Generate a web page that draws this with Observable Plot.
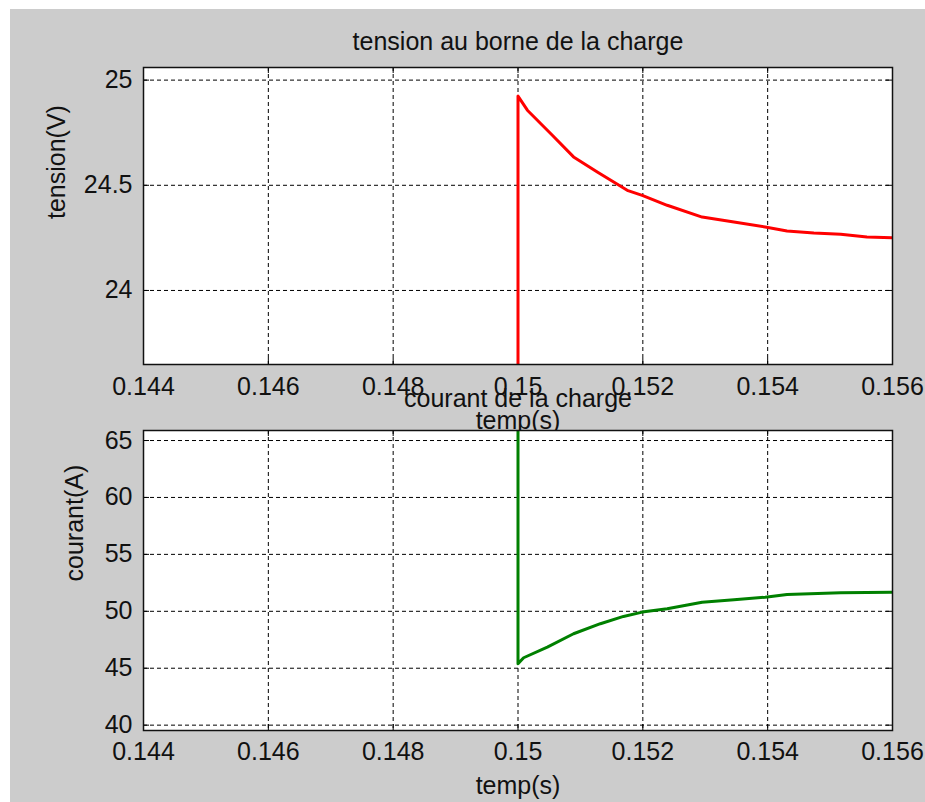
<!DOCTYPE html>
<html><head><meta charset="utf-8">
<script src="https://cdn.jsdelivr.net/npm/d3@7"></script>
<script src="https://cdn.jsdelivr.net/npm/@observablehq/plot@0.6"></script>
<style>
html,body{margin:0;padding:0;background:#fff;}
#fig{position:relative;width:925px;height:802px;background:#fff;overflow:hidden;}
#bg{position:absolute;left:10px;top:9px;right:0;bottom:0;background:#cccccc;}
#fig svg{position:absolute;left:0;}
</style></head><body>
<div id="fig"><div id="bg"></div></div>
<script>
// ---- data ----
const tVolt = [0.15, 0.15, 0.15015, 0.15055, 0.15089, 0.15127, 0.15175, 0.15199, 0.15239, 0.15295, 0.15346, 0.15396, 0.15431, 0.15474, 0.15517, 0.15559, 0.156];
const volt  = [23.0, 24.924, 24.857, 24.738, 24.635, 24.563, 24.476, 24.452, 24.405, 24.349, 24.325, 24.302, 24.283, 24.273, 24.267, 24.254, 24.251];
const tCur = [0.15, 0.15, 0.15009, 0.15047, 0.15089, 0.15132, 0.15169, 0.15199, 0.15239, 0.15295, 0.15346, 0.15396, 0.15431, 0.15517, 0.156];
const cur  = [70, 45.39, 45.92, 46.85, 48.03, 48.91, 49.55, 49.93, 50.22, 50.80, 51.01, 51.24, 51.48, 51.63, 51.68];
const xTicks = [0.144, 0.146, 0.148, 0.15, 0.152, 0.154, 0.156];
const xTickLabels = ["0.144", "0.146", "0.148", "0.15", "0.152", "0.154", "0.156"];
const voltTicks = [24, 24.5, 25];
const voltTickLabels = ["24", "24.5", "25"];
const curTicks = [40, 45, 50, 55, 60, 65];
const curTickLabels = ["40", "45", "50", "55", "60", "65"];
const xDomain = [0.144, 0.156];
const voltDomain = [23.648, 25.06];
const curDomain = [39.53, 65.88];

const FONT = "'Liberation Sans', Arial, Helvetica, sans-serif";
const W = 925, ML = 143, MR = 33;

function panel(o) {
  const data = o.t.map((t, i) => ({t, v: o.v[i]}));
  const H = o.height - o.mt - o.mb;
  const FW = W - ML - MR;
  const svg = Plot.plot({
    width: W, height: o.height,
    marginLeft: ML, marginRight: MR, marginTop: o.mt, marginBottom: o.mb,
    style: {fontFamily: FONT, fontSize: "25px", background: "transparent", color: "#111", overflow: "visible"},
    x: {domain: xDomain, label: null},
    y: {domain: o.yDomain, label: null},
    marks: [
      Plot.frame({fill: "white", stroke: null}),
      Plot.gridX(xTicks, {stroke: "#000", strokeOpacity: 1, strokeDasharray: "4,3", strokeWidth: 1}),
      Plot.gridY(o.yTicks, {stroke: "#000", strokeOpacity: 1, strokeDasharray: "4,3", strokeWidth: 1}),
      Plot.ruleX(xTicks, {x: d => d, insetTop: H - 6, stroke: "#000", strokeWidth: 1}),
      Plot.ruleX(xTicks, {x: d => d, insetBottom: H - 6, stroke: "#000", strokeWidth: 1}),
      Plot.ruleY(o.yTicks, {y: d => d, insetRight: FW - 6, stroke: "#000", strokeWidth: 1}),
      Plot.ruleY(o.yTicks, {y: d => d, insetLeft: FW - 6, stroke: "#000", strokeWidth: 1}),
      Plot.line(data, {x: "t", y: "v", stroke: o.color, strokeWidth: 3, clip: true}),
      Plot.frame({stroke: "#111", strokeWidth: 1.5}),
      Plot.axisX(xTicks, {anchor: "bottom", tickSize: 0, tickPadding: o.padX, fontSize: 25,
        tickFormat: d => xTickLabels[xTicks.indexOf(d)], label: null}),
      Plot.axisY(o.yTicks, {anchor: "left", tickSize: 0, tickPadding: 11, fontSize: 25,
        tickFormat: d => o.yLabels[o.yTicks.indexOf(d)], label: null}),
      Plot.text([o.title], {frameAnchor: "top", dy: o.titleDy, fontSize: 25, lineAnchor: "middle", fill: "#111"}),
      Plot.text(["temp(s)"], {frameAnchor: "bottom", dy: o.xlabDy, fontSize: 25, lineAnchor: "middle", fill: "#111"}),
      Plot.text([o.ylabel], {frameAnchor: "left", dx: o.ylabDx, dy: o.ylabDy, rotate: -90, fontSize: 25, lineAnchor: "middle", fill: "#111"})
    ]
  });
  svg.style.top = o.top + "px";
  document.getElementById("fig").appendChild(svg);
}

panel({t: tVolt, v: volt, yDomain: voltDomain, yTicks: voltTicks, yLabels: voltTickLabels,
  color: "#ff0000", title: "tension au borne de la charge", ylabel: "tension(V)",
  top: 0, height: 440, mt: 67, mb: 76, padX: 13, titleDy: -26, xlabDy: 56, ylabDx: -87, ylabDy: 3});
panel({t: tCur, v: cur, yDomain: curDomain, yTicks: curTicks, yLabels: curTickLabels,
  color: "#008000", title: "courant de la charge", ylabel: "courant(A)",
  top: 370, height: 432, mt: 60, mb: 72, padX: 12, titleDy: -32, xlabDy: 55, ylabDx: -69, ylabDy: 1});
</script>
</body></html>
